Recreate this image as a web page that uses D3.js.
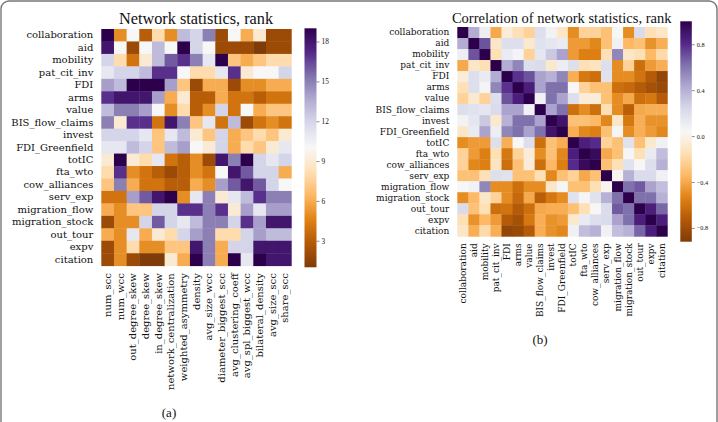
<!DOCTYPE html>
<html><head><meta charset="utf-8">
<script src="https://cdn.jsdelivr.net/npm/d3@7"></script>
<style>html,body{margin:0;padding:0;background:#fff;}svg{display:block;}text{font-family:"Liberation Serif","Times New Roman",serif;fill:#111;}</style>
</head><body><svg id="chart" width="718" height="422"></svg>
<script>
// ---------- DATA ----------
const networks = ["collaboration","aid","mobility","pat_cit_inv","FDI","arms","value","BIS_flow_claims","invest","FDI_Greenfield","totIC","fta_wto","cow_alliances","serv_exp","migration_flow","migration_stock","out_tour","expv","citation"];
const statistics = ["num_scc","num_wcc","out_degree_skew","degree_skew","in_degree_skew","network_centralization","weighted_asymmetry","density","avg_size_wcc","diameter_biggest_scc","avg_clustering_coeff","avg_spl_biggest_wcc","bilateral_density","avg_size_scc","share_scc"];
// rank of each statistic (columns) for each network (rows)
const rankValues = [
  [19, 5,10, 3, 8, 5,13,12,15, 2,10, 6, 9, 2, 2],
  [18,10, 2,10,13,10,19,12,10, 2, 2, 2, 1, 2, 2],
  [12, 8, 4, 9,13,16,17,15,11,19, 7, 6, 7, 8, 8],
  [11,12,12,13,17,17,10, 8, 8,11,17, 9,10,10,12],
  [14,13,19,19,19,14, 7, 2, 6, 6, 2, 5, 5, 6, 6],
  [17,18,18,18,14, 6, 9, 3, 3, 6, 4, 4, 3, 4, 4],
  [13,15,15,14,10, 5, 8, 3, 5,12, 4,10, 6, 7, 7],
  [15, 9,17,17, 4,18,15, 7,11, 4,13, 2, 4, 5, 4],
  [12,12,12,11, 7,11,13, 9, 7,12, 6, 7, 8, 7, 9],
  [11,11,13,12, 7,13,14,10, 9,12, 6, 8, 7, 9,11],
  [ 9,19, 9, 8,11, 4, 3, 5, 2,18,15,19,12,11,12],
  [ 8,17, 5, 4, 3, 2, 3, 5, 4,10,18,16,12,12, 6],
  [ 7,15, 6, 4, 4, 3, 3, 6, 5,14,16,18,16,12,10],
  [ 4, 4,14,16,18,19, 5,11,15, 9,11,13,17,15,15],
  [ 6, 5, 7, 7,12,12,17,17,15,17, 9,14,11,14,14],
  [ 2, 5, 5,12,16,12,11,13,15,15,12,17,14,18,18],
  [ 6, 5,11, 6, 9, 8,12,14,15, 8, 8,12,14,13,13],
  [ 2, 5, 8, 5, 5, 7, 7,18,15, 6,12,12,18,18,18],
  [ 2, 5, 2, 1, 1, 9, 6,19,15, 6,19,11,19,18,18]
];
// correlation of the rank vectors between networks
const corrValues = [
  [ 1.00, 0.42, 0.10,-0.40,-0.05,-0.15,-0.22, 0.20, 0.07,-0.10,-0.50,-0.22,-0.22,-0.30, 0.04,-0.50, 0.22,-0.15,-0.10],
  [ 0.42, 1.00, 0.70,-0.10, 0.20, 0.20,-0.08, 0.18, 0.15, 0.12,-0.45,-0.45,-0.52,-0.30, 0.08,-0.34,-0.30,-0.48,-0.38],
  [ 0.10, 0.70, 1.00,-0.15, 0.12, 0.06,-0.22, 0.15, 0.30, 0.45,-0.45,-0.55,-0.55,-0.15, 0.55,-0.10,-0.15,-0.34,-0.18],
  [-0.40,-0.10,-0.15, 1.00, 0.42, 0.55, 0.20, 0.22,-0.08, 0.10, 0.20,-0.15,-0.12, 0.20,-0.50,-0.22,-0.62,-0.45,-0.38],
  [-0.05, 0.20, 0.12, 0.42, 1.00, 0.78, 0.70, 0.45, 0.40, 0.55,-0.38,-0.58,-0.62, 0.18,-0.50,-0.50,-0.60,-0.72,-0.85],
  [-0.15, 0.20, 0.06, 0.55, 0.78, 1.00, 0.85, 0.45, 0.62, 0.62, 0.04,-0.22,-0.30,-0.30,-0.62,-0.65,-0.72,-0.78,-0.82],
  [-0.22,-0.08,-0.22, 0.20, 0.70, 0.85, 1.00, 0.08, 0.62, 0.45, 0.20,-0.05,-0.05,-0.30,-0.50,-0.40,-0.62,-0.58,-0.72],
  [ 0.20, 0.18, 0.15, 0.22, 0.45, 0.45, 0.08, 1.00, 0.45, 0.62,-0.62,-0.50,-0.62,-0.15,-0.50,-0.70,-0.40,-0.38,-0.38],
  [ 0.07, 0.15, 0.30,-0.08, 0.40, 0.62, 0.62, 0.45, 1.00, 0.90,-0.30,-0.30,-0.34,-0.52,-0.10,-0.58,-0.38,-0.48,-0.48],
  [-0.10, 0.12, 0.45, 0.10, 0.55, 0.62, 0.45, 0.62, 0.90, 1.00,-0.38,-0.52,-0.55,-0.30, 0.05,-0.50,-0.38,-0.45,-0.52],
  [-0.50,-0.45,-0.45, 0.20,-0.38, 0.04, 0.20,-0.62,-0.30,-0.38, 1.00, 0.85, 0.80,-0.22,-0.30, 0.18,-0.30,-0.08, 0.08],
  [-0.22,-0.45,-0.55,-0.15,-0.58,-0.22,-0.05,-0.50,-0.30,-0.52, 0.85, 1.00, 0.95,-0.40,-0.30, 0.05,-0.15, 0.12, 0.35],
  [-0.22,-0.52,-0.55,-0.12,-0.62,-0.30,-0.05,-0.62,-0.34,-0.55, 0.80, 0.95, 1.00,-0.30,-0.15, 0.18, 0.03, 0.20, 0.40],
  [-0.30,-0.30,-0.15, 0.20, 0.18,-0.30,-0.30,-0.15,-0.52,-0.30,-0.22,-0.40,-0.30, 1.00, 0.02, 0.40, 0.22, 0.22, 0.08],
  [ 0.04, 0.08, 0.55,-0.50,-0.50,-0.62,-0.50,-0.50,-0.10, 0.05,-0.30,-0.30,-0.15, 0.02, 1.00, 0.62, 0.68, 0.45, 0.35],
  [-0.50,-0.34,-0.10,-0.22,-0.50,-0.65,-0.40,-0.70,-0.58,-0.50, 0.18, 0.05, 0.18, 0.40, 0.62, 1.00, 0.62, 0.62, 0.40],
  [ 0.22,-0.30,-0.15,-0.62,-0.60,-0.72,-0.62,-0.40,-0.38,-0.38,-0.30,-0.15, 0.03, 0.22, 0.68, 0.62, 1.00, 0.85, 0.65],
  [-0.15,-0.48,-0.34,-0.45,-0.72,-0.78,-0.58,-0.38,-0.48,-0.45,-0.08, 0.12, 0.20, 0.22, 0.45, 0.62, 0.85, 1.00, 0.85],
  [-0.10,-0.38,-0.18,-0.38,-0.85,-0.82,-0.72,-0.38,-0.48,-0.52, 0.08, 0.35, 0.40, 0.08, 0.35, 0.40, 0.65, 0.85, 1.00]
];
const rankTicks = [3, 6, 9, 12, 15, 18];
const corrTicks = [-0.8, -0.4, 0.0, 0.4, 0.8];
const titleA = "Network statistics, rank";
const titleB = "Correlation of network statistics, rank";

// ---------- helpers ----------
const puor = ["#7f3b08","#b35806","#e08214","#fdb863","#fee0b6","#f7f7f7","#d8daeb","#b2abd2","#8073ac","#542788","#2d004b"];
function makeColor(vmin, vmax) {
  return d3.scaleLinear()
    .domain(puor.map((_, i) => vmin + i * (vmax - vmin) / (puor.length - 1)))
    .range(puor).interpolate(d3.interpolateRgb).clamp(true);
}
const labelFont = "'DejaVu Serif',serif";
const svg = d3.select("#chart");
svg.append("rect").attr("x", 1).attr("y", 1).attr("width", 716).attr("height", 460)
  .attr("rx", 8).attr("fill", "none").attr("stroke", "#777").attr("stroke-width", 1.4);

function heatmap(cfg) {
  const {rows, cols, values, x0, x1, y0, y1, color, labelSize, colLabelGap} = cfg;
  const x = d3.scaleBand().domain(cols).range([x0, x1]);
  const y = d3.scaleBand().domain(rows).range([y0, y1]);
  const g = svg.append("g");
  const cells = [];
  rows.forEach((r, i) => cols.forEach((c, j) => cells.push({r, c, v: values[i][j]})));
  g.selectAll("rect.cell").data(cells).join("rect").attr("class", "cell")
    .attr("x", d => x(d.c)).attr("y", d => y(d.r))
    .attr("width", x.bandwidth() + 0.4).attr("height", y.bandwidth() + 0.4)
    .attr("fill", d => color(d.v));
  // row labels
  const ay = d3.axisLeft(y).tickSize(0).tickPadding(8);
  const gy = g.append("g").attr("transform", `translate(${x0},0)`).call(ay);
  gy.select(".domain").remove();
  gy.selectAll("text").style("font-size", labelSize + "px").style("font-family", labelFont).attr("fill", "#111");
  // column labels
  const ax = d3.axisBottom(x).tickSize(0).tickPadding(0);
  const gx = g.append("g").attr("transform", `translate(0,${y1})`).call(ax);
  gx.select(".domain").remove();
  gx.selectAll("text").style("font-size", labelSize + "px").style("font-family", labelFont).attr("fill", "#111")
    .attr("text-anchor", "end").attr("transform", "rotate(-90)")
    .attr("x", -colLabelGap).attr("y", 0).attr("dy", "0.33em");
  return {x, y};
}

function colorbar(cfg) {
  const {id, x0, w, y0, y1, vmin, vmax, color, ticks, fmt, fontSize} = cfg;
  const defs = svg.append("defs");
  const grad = defs.append("linearGradient").attr("id", id).attr("x1", 0).attr("y1", 1).attr("x2", 0).attr("y2", 0);
  d3.range(0, 41).forEach(i => {
    const t = i / 40;
    grad.append("stop").attr("offset", t).attr("stop-color", color(vmin + t * (vmax - vmin)));
  });
  svg.append("rect").attr("x", x0).attr("y", y0).attr("width", w).attr("height", y1 - y0).attr("fill", `url(#${id})`);
  const s = d3.scaleLinear().domain([vmin, vmax]).range([y1, y0]);
  const g = svg.append("g").attr("transform", `translate(${x0 + w},0)`)
    .call(d3.axisRight(s).tickValues(ticks).tickSize(3).tickPadding(2).tickFormat(fmt));
  g.select(".domain").remove();
  g.selectAll(".tick line").attr("stroke", "#444").attr("stroke-width", 0.6);
  g.selectAll("text").style("font-size", fontSize + "px").style("font-family", "'Liberation Serif',serif").attr("fill", "#333");
}

// ---------- panel (a) ----------
const colorA = makeColor(1, 19);
heatmap({rows: networks, cols: statistics, values: rankValues, x0: 101.3, x1: 291.3, y0: 29, y1: 265.7,
  color: colorA, labelSize: 10, colLabelGap: 7.5});
colorbar({id: "gA", x0: 304.5, w: 12, y0: 28.3, y1: 267.3, vmin: 1, vmax: 19, color: colorA,
  ticks: rankTicks, fmt: d3.format("d"), fontSize: 7.3});
svg.append("text").attr("x", 196).attr("y", 24).attr("text-anchor", "middle").style("font-size", "16.3px").text(titleA);
svg.append("text").attr("x", 169).attr("y", 417).attr("text-anchor", "middle").style("font-size", "13px").text("(a)");

// ---------- panel (b) ----------
const colorB = makeColor(-0.92, 1.0);
heatmap({rows: networks, cols: networks, values: corrValues, x0: 457.3, x1: 667.3, y0: 27, y1: 236.3,
  color: colorB, labelSize: 9, colLabelGap: 7});
colorbar({id: "gB", x0: 680.3, w: 11.5, y0: 21.3, y1: 241.7, vmin: -0.92, vmax: 1.0, color: colorB,
  ticks: corrTicks, fmt: d3.format(".1f"), fontSize: 6.3});
svg.append("text").attr("x", 561.7).attr("y", 23).attr("text-anchor", "middle").style("font-size", "14.5px").text(titleB);
svg.append("text").attr("x", 540).attr("y", 344).attr("text-anchor", "middle").style("font-size", "13px").text("(b)");
</script></body></html>
